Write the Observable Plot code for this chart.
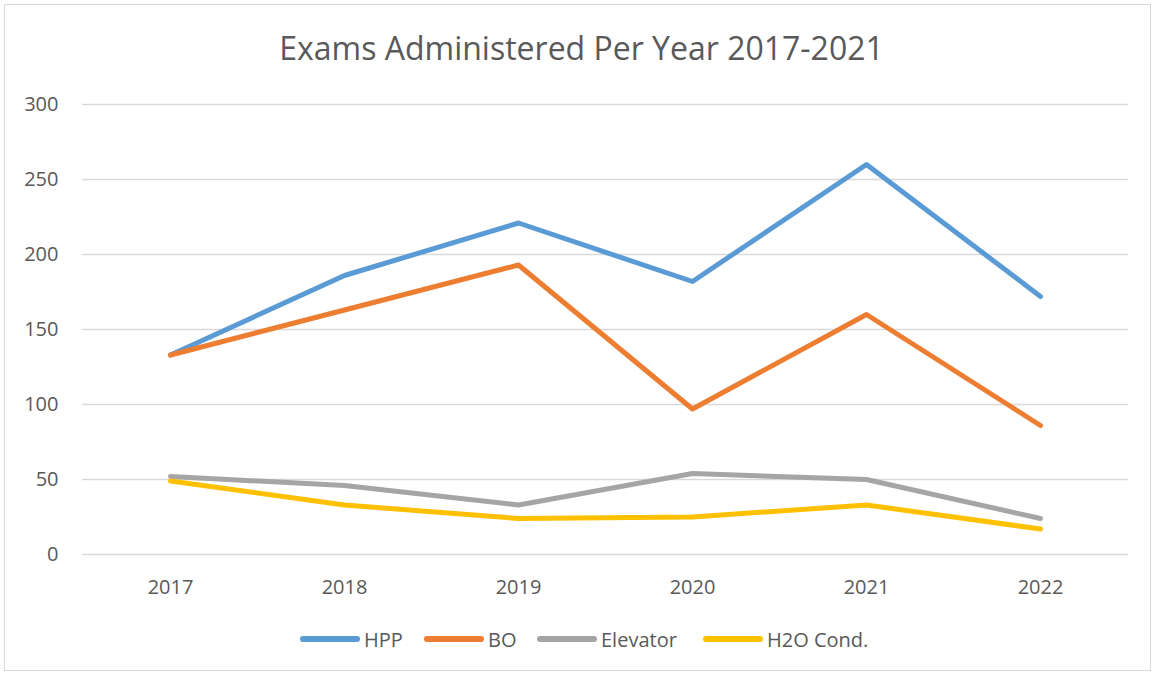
<!DOCTYPE html>
<html>
<head>
<meta charset="utf-8">
<script src="https://cdn.jsdelivr.net/npm/d3@7"></script>
<script src="https://cdn.jsdelivr.net/npm/@observablehq/plot@0.6"></script>
<style>
  html, body { margin: 0; padding: 0; background: #fff; }
  #chart { position: relative; width: 1157px; height: 676px; overflow: hidden; font-family: "Open Sans", sans-serif; }
  #frame { position: absolute; left: 4px; top: 4px; width: 1147px; height: 667px; border: 1px solid #d9d9d9; box-sizing: border-box; }
  #title { position: absolute; left: 3px; width: 1157px; top: 26px; text-align: center; font-size: 32px; color: #595959; line-height: normal; white-space: nowrap; }
  #plot { position: absolute; left: 0; top: 0; }
  #legend { position: absolute; top: 624px; left: 0; width: 1157px; height: 30px; }
  .item { position: absolute; top: 0; height: 30px; display: flex; align-items: center; font-size: 20px; color: #595959; line-height: normal; white-space: nowrap; }
  .item svg { margin-right: 3px; }
</style>
</head>
<body>
<div id="chart">
  <div id="frame"></div>
  <div id="title"></div>
  <div id="plot"></div>
  <div id="legend"></div>
</div>
<script>
const titleText = "Exams Administered Per Year 2017-2021";
const years = ["2017", "2018", "2019", "2020", "2021", "2022"];
const seriesNames = ["HPP", "BO", "Elevator", "H2O Cond."];
const hpp = [133, 186, 221, 182, 260, 172];
const bo = [133, 163, 193, 97, 160, 86];
const elevator = [52, 46, 33, 54, 50, 24];
const h2o = [49, 33, 24, 25, 33, 17];
const yTicks = [0, 50, 100, 150, 200, 250, 300];
const colors = ["#5B9BD5", "#ED7D31", "#A5A5A5", "#FFC000"];

const seriesValues = [hpp, bo, elevator, h2o];
const rows = [];
seriesNames.forEach((name, i) => {
  years.forEach((yr, j) => rows.push({series: name, year: yr, value: seriesValues[i][j]}));
});

document.getElementById("title").textContent = titleText;

const chart = Plot.plot({
  width: 1157,
  height: 676,
  marginLeft: 82,
  marginRight: 29,
  marginTop: 104,
  marginBottom: 122,
  style: {fontFamily: "'Open Sans', sans-serif", fontSize: "20px", color: "#595959", background: "transparent"},
  x: {type: "point", domain: years, padding: 0.5, label: null},
  y: {domain: [0, 300], label: null},
  color: {domain: seriesNames, range: colors},
  marks: [
    Plot.ruleY(yTicks, {stroke: "#d9d9d9", strokeWidth: 1.3}),
    Plot.axisY({ticks: yTicks, tickSize: 0, tickPadding: 24, label: null, fill: "#595959", fontSize: 20}),
    Plot.axisX({tickSize: 0, tickPadding: 25, label: null, fill: "#595959", fontSize: 20}),
    Plot.line(rows, {x: "year", y: "value", z: "series", stroke: "series", strokeWidth: 5, strokeLinejoin: "round", strokeLinecap: "round"})
  ]
});
document.getElementById("plot").appendChild(chart);

// legend
const legendPos = [299, 423, 536, 702];
const legend = document.getElementById("legend");
seriesNames.forEach((name, i) => {
  const item = document.createElement("div");
  item.className = "item";
  item.style.left = legendPos[i] + "px";
  item.innerHTML = `<svg width="62" height="10"><line x1="4" y1="5" x2="58" y2="5" stroke="${colors[i]}" stroke-width="6" stroke-linecap="round"/></svg><span>${name}</span>`;
  legend.appendChild(item);
});
</script>
</body>
</html>
